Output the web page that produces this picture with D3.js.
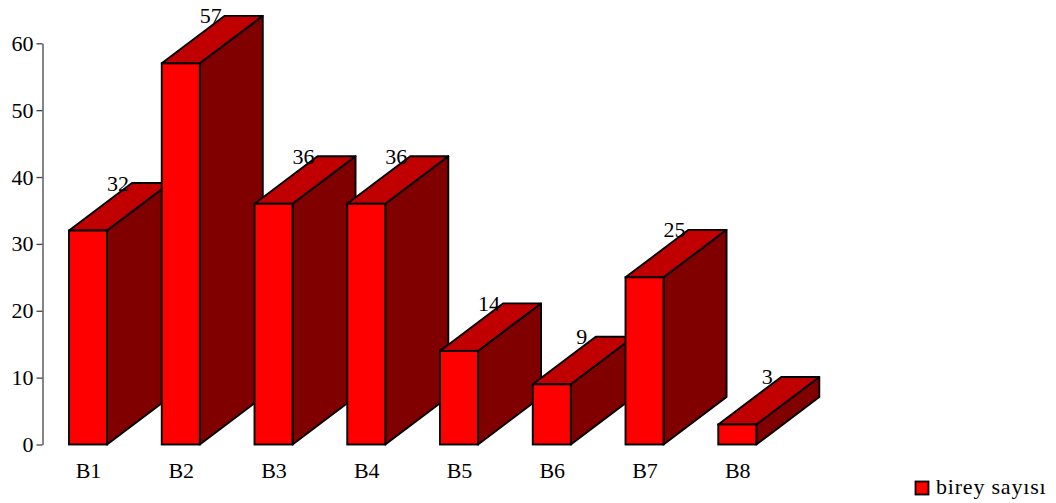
<!DOCTYPE html>
<html>
<head>
<meta charset="utf-8">
<script src="https://cdn.jsdelivr.net/npm/d3@7"></script>
<style>
  html, body { margin: 0; padding: 0; background: #fff; }
  svg { display: block; font-family: "Liberation Serif", "Times New Roman", serif; }
</style>
</head>
<body>
<svg id="chart" width="1056" height="503"></svg>
<script>
const categories = ["B1", "B2", "B3", "B4", "B5", "B6", "B7", "B8"];
const values = [32, 57, 36, 36, 14, 9, 25, 3];
const yTicks = [0, 10, 20, 30, 40, 50, 60];
const seriesName = "birey sayısı";

const svg = d3.select("#chart");
const depthX = 63, depthY = 47.5;
const colFront = "#ff0000", colTop = "#c00000", colSide = "#800000";
const sw = 1.9;

const y = d3.scaleLinear().domain([0, 60]).range([444.5, 43.3]);
const x = d3.scaleBand().domain(categories).range([69, 756.3]).paddingInner(0.59).paddingOuter(0);
const bw = x.bandwidth();

// Y axis
const yAxis = d3.axisLeft(y).tickValues(yTicks).tickSize(6).tickPadding(3).tickSizeOuter(0);
const gy = svg.append("g").attr("transform", "translate(42.5,0)").call(yAxis);
gy.select(".domain").attr("stroke", "#444").attr("stroke-width", 1.3);
gy.selectAll(".tick line").attr("stroke", "#444").attr("stroke-width", 1.3);
gy.selectAll(".tick text").attr("fill", "#000").attr("font-size", "22px")
  .attr("font-family", "'Liberation Serif', 'Times New Roman', serif");

// Bars
const bars = svg.append("g");
categories.forEach((c, i) => {
  const v = values[i];
  const x0 = x(c), x1 = x0 + bw, yt = y(v), yb = y(0);
  const g = bars.append("g");
  g.append("path")
    .attr("d", `M${x1},${yb} L${x1 + depthX},${yb - depthY} L${x1 + depthX},${yt - depthY} L${x1},${yt} Z`)
    .attr("fill", colSide).attr("stroke", "#000").attr("stroke-width", sw).attr("stroke-linejoin", "round");
  g.append("path")
    .attr("d", `M${x0},${yt} L${x0 + depthX},${yt - depthY} L${x1 + depthX},${yt - depthY} L${x1},${yt} Z`)
    .attr("fill", colTop).attr("stroke", "#000").attr("stroke-width", sw).attr("stroke-linejoin", "round");
  g.append("rect")
    .attr("x", x0).attr("y", yt).attr("width", bw).attr("height", yb - yt)
    .attr("fill", colFront).attr("stroke", "#000").attr("stroke-width", sw);
});

// Value labels
svg.append("g").selectAll("text").data(categories).join("text")
  .attr("x", (c) => x(c) + bw / 2 + depthX / 2 - 1.5)
  .attr("y", (c, i) => y(values[i]) - depthY + 7.5)
  .attr("text-anchor", "middle")
  .attr("font-size", "22px")
  .attr("fill", "#000")
  .text((c, i) => values[i]);

// Category labels
svg.append("g").selectAll("text").data(categories).join("text")
  .attr("x", (c) => x(c) + bw / 2 + 0.5)
  .attr("y", 478)
  .attr("text-anchor", "middle")
  .attr("font-size", "22px")
  .attr("fill", "#000")
  .text((c) => c);

// Legend
const lg = svg.append("g");
lg.append("rect").attr("x", 915.5).attr("y", 481.5).attr("width", 13).attr("height", 13)
  .attr("fill", colFront).attr("stroke", "#000").attr("stroke-width", 1.8);
lg.append("text").attr("x", 936).attr("y", 494).attr("font-size", "22px")
  .attr("letter-spacing", "0.8px").attr("fill", "#000").text(seriesName);
</script>
</body>
</html>
